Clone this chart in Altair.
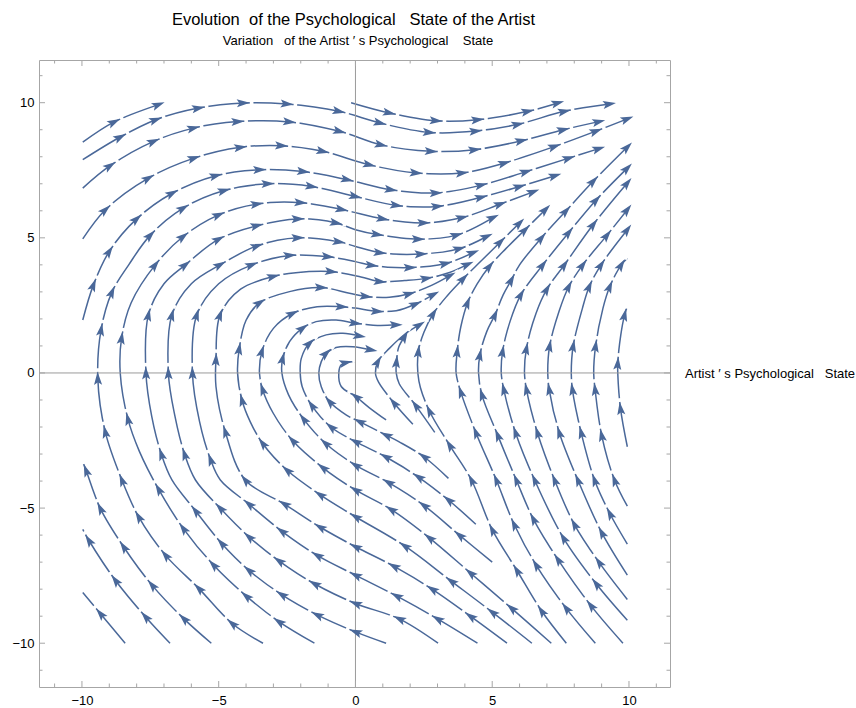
import math
import altair as alt
import pandas as pd

# ---------------- text ----------------
TITLE = "Evolution\u00a0 of the Psychological\u00a0\u00a0 State of the Artist"
Y_LABEL = "Variation\u00a0\u00a0 of the Artist \u2032 s Psychological\u00a0\u00a0\u00a0 State"
X_LABEL = "Artist \u2032 s Psychological\u00a0\u00a0 State"

# ---------------- axes ----------------
MAJOR_TICKS = [-10, -5, 0, 5, 10]
MINOR_TICKS = [-11, -9, -8, -7, -6, -4, -3, -2, -1, 1, 2, 3, 4, 6, 7, 8, 9, 11]
X_DOMAIN = [-11.57, 11.5]
Y_DOMAIN = [-11.62, 11.58]

# ---------------- streamlines (x, y, arrowhead here?) ----------------
S1 = [(-9.97, 8.54, 0), (-8.82, 9.29, 1), (-7.2, 9.93, 1)]
S2 = [(-9.97, 7.89, 0), (-8.6, 8.73, 1), (-7.3, 9.37, 1), (-5.74, 9.8, 1), (-4.1, 9.99, 1),
      (-2.5, 9.95, 1), (-0.6, 9.68, 1), (0.9, 9.25, 1), (2.7, 8.9, 1), (4.4, 8.95, 1),
      (5.94, 9.2, 1), (7.64, 9.68, 1), (9.29, 9.95, 1)]
T0 = [(-0.16, 10.0, 0), (1.24, 9.62, 1), (2.95, 9.33, 1), (4.47, 9.37, 1), (6.3, 9.68, 1), (7.4, 9.99, 1)]
S3 = [(-9.97, 6.84, 0), (-8.97, 7.67, 1), (-7.38, 8.57, 1), (-5.92, 9.06, 1), (-4.3, 9.3, 1),
      (-2.41, 9.29, 1), (-0.58, 8.94, 1), (0.94, 8.44, 1), (2.77, 8.2, 1), (4.36, 8.26, 1),
      (6.07, 8.59, 1), (7.6, 9.0, 1), (8.9, 9.3, 1)]
S4 = [(-9.97, 4.96, 0), (-9.14, 6.04, 1), (-7.57, 7.21, 1), (-5.9, 7.95, 1), (-4.2, 8.35, 1),
      (-2.7, 8.41, 1), (-1.19, 8.2, 1), (0.51, 7.7, 1), (2.22, 7.4, 1), (3.9, 7.4, 1),
      (5.45, 7.77, 1), (7.28, 8.38, 1), (8.8, 8.95, 1), (9.94, 9.4, 1)]
S5 = [(-9.97, 1.96, 0), (-9.58, 3.26, 1), (-9.0, 4.5, 1), (-8.0, 5.7, 1), (-6.7, 6.65, 1),
      (-5.1, 7.3, 1), (-3.5, 7.52, 1), (-1.9, 7.45, 1), (-0.3, 7.15, 1), (1.3, 6.78, 1),
      (2.95, 6.66, 1), (4.6, 6.95, 1), (6.24, 7.45, 1), (7.8, 7.95, 1), (8.9, 8.3, 1)]

L_A = [(-8.42, -10.0, 0), (-9.33, -8.9, 1), (-9.97, -8.12, 0)]
L_B = [(-6.78, -10.0, 0), (-7.68, -9.02, 1), (-8.78, -7.67, 1), (-9.75, -6.19, 1), (-9.97, -5.79, 0)]
L_C = [(-5.27, -10.0, 0), (-6.28, -9.09, 1), (-7.44, -7.85, 1), (-8.48, -6.43, 1), (-9.33, -5.01, 1),
       (-9.85, -3.6, 1), (-9.97, -3.29, 0)]

A1 = [(-3.38, -10.0, 0), (-4.51, -9.27, 1), (-5.73, -7.97, 1), (-6.95, -6.74, 1), (-7.93, -5.32, 1),
      (-8.54, -3.96, 1), (-9.15, -2.17, 1), (-9.42, -0.2, 1), (-9.3, 1.6, 1), (-8.9, 3.0, 1),
      (-8.29, 4.0, 0), (-7.5, 5.1, 1), (-6.3, 6.1, 1), (-4.8, 6.75, 1), (-3.2, 7.0, 1),
      (-1.6, 6.9, 1), (0.0, 6.53, 1), (1.5, 6.2, 1), (3.0, 6.16, 1), (4.6, 6.5, 1), (6.0, 6.9, 1),
      (7.3, 7.3, 1)]
A2 = [(-1.5, -10.0, 0), (-2.8, -9.2, 1), (-4.0, -8.25, 1), (-5.2, -7.1, 1), (-6.3, -5.75, 1),
      (-7.2, -4.3, 1), (-7.9, -2.9, 0), (-8.32, -1.7, 1), (-8.6, 0.0, 0), (-8.55, 1.3, 1),
      (-8.2, 2.6, 0), (-7.32, 4.0, 1), (-6.3, 5.05, 1), (-5.0, 5.85, 1), (-3.6, 6.25, 1),
      (-2.0, 6.3, 1), (-0.5, 6.05, 1), (1.0, 5.7, 1), (2.5, 5.55, 1), (3.9, 5.75, 1), (5.3, 6.25, 1),
      (6.5, 6.7, 1)]
A3 = [(1.12, -10.0, 0), (0.0, -9.58, 1), (-1.4, -8.95, 1), (-2.7, -8.2, 1), (-3.9, -7.3, 1),
      (-4.9, -6.3, 1), (-5.85, -5.1, 1), (-6.71, -3.96, 0), (-7.1, -3.0, 1), (-7.45, -1.6, 0),
      (-7.66, 0.0, 1), (-7.57, 2.15, 1), (-7.0, 3.3, 0), (-6.22, 4.0, 1), (-5.0, 4.95, 1),
      (-3.6, 5.45, 1), (-2.1, 5.7, 1), (-0.7, 5.55, 1), (0.0, 5.3, 0), (0.8, 5.12, 1),
      (2.3, 4.95, 1), (3.7, 5.1, 1), (5.03, 5.75, 1)]
A4 = [(3.02, -10.0, 0), (1.6, -9.1, 1), (0.0, -8.53, 1), (-1.5, -7.8, 1), (-2.8, -6.95, 1),
      (-3.9, -6.06, 1), (-4.95, -5.0, 1), (-5.85, -3.96, 0), (-6.25, -3.0, 1), (-6.6, -1.6, 0),
      (-6.84, 0.0, 1), (-6.71, 2.15, 1), (-6.0, 3.3, 0), (-4.95, 4.0, 1), (-3.6, 4.7, 1),
      (-2.1, 5.0, 1), (-0.6, 4.85, 1), (0.0, 4.68, 0), (0.9, 4.45, 1), (2.4, 4.4, 1),
      (3.8, 4.6, 1), (4.8, 5.05, 1)]
A5 = [(4.46, -10.0, 0), (3.0, -9.1, 1), (1.5, -8.25, 1), (0.0, -7.48, 1), (-1.4, -6.75, 1),
      (-2.7, -5.85, 1), (-3.9, -4.85, 1), (-4.94, -3.96, 0), (-5.3, -3.2, 1), (-5.7, -1.8, 0),
      (-5.96, 0.0, 1), (-5.8, 2.15, 1), (-5.0, 3.3, 0), (-3.79, 4.0, 1), (-2.4, 4.35, 1),
      (-1.0, 4.3, 1), (0.0, 4.12, 0), (0.6, 3.98, 1), (2.0, 3.9, 1), (3.3, 4.05, 1), (4.3, 4.45, 1)]
A6 = [(5.54, -10.0, 0), (4.2, -9.0, 1), (2.8, -8.0, 1), (1.4, -7.15, 1), (0.0, -6.43, 1),
      (-1.3, -5.7, 1), (-2.6, -4.85, 1), (-4.03, -3.96, 1), (-4.76, -2.17, 1), (-5.1, -0.5, 0),
      (-5.1, 0.5, 1), (-4.95, 2.15, 1), (-4.2, 3.1, 0), (-3.0, 3.57, 1), (-1.7, 3.75, 0),
      (-0.88, 3.75, 1), (0.2, 3.55, 0), (0.9, 3.38, 1), (1.8, 3.42, 0), (2.6, 3.5, 1),
      (3.44, 3.72, 0), (4.1, 4.02, 1)]
A7 = [(6.45, -10.0, 0), (5.0, -8.85, 1), (3.5, -7.7, 1), (1.8, -6.4, 1), (0.0, -5.32, 1),
      (-1.3, -4.5, 1), (-2.5, -3.6, 1), (-3.4, -2.6, 1), (-3.85, -1.8, 0), (-4.15, -1.0, 1),
      (-4.31, 0.0, 0), (-4.25, 0.9, 1), (-4.0, 1.95, 0), (-3.5, 2.6, 1), (-2.41, 3.01, 0),
      (-1.25, 3.16, 1), (-0.22, 2.95, 0), (0.39, 2.83, 1), (1.24, 2.8, 0), (1.97, 2.93, 1),
      (2.8, 3.25, 0), (3.45, 3.6, 1)]
A8 = [(7.16, -10.0, 0), (5.7, -8.7, 1), (4.2, -7.4, 1), (2.7, -6.1, 1), (1.3, -5.05, 1),
      (0.0, -4.33, 1), (-1.2, -3.5, 1), (-2.3, -2.5, 1), (-3.0, -1.5, 0), (-3.4, -0.6, 1),
      (-3.51, 0.0, 0), (-3.42, 0.8, 1), (-3.0, 1.65, 0), (-2.3, 2.2, 1), (-1.4, 2.45, 0),
      (-0.5, 2.45, 1), (0.0, 2.4, 0), (0.8, 2.28, 1), (1.49, 2.3, 0), (2.2, 2.55, 1),
      (2.85, 2.9, 1)]
A9 = [(5.0, -7.0, 0), (3.8, -6.0, 1), (2.5, -4.9, 1), (1.2, -4.05, 1), (0.0, -3.41, 1),
      (-1.1, -2.6, 1), (-1.9, -1.7, 1), (-2.45, -0.8, 0), (-2.69, 0.0, 0), (-2.66, 0.54, 1),
      (-2.41, 1.16, 0), (-1.93, 1.66, 1), (-1.44, 1.9, 0), (-0.71, 1.96, 0), (0.0, 1.84, 1),
      (0.8, 1.76, 0), (1.49, 1.78, 1)]
A10 = [(4.4, -5.6, 0), (3.4, -4.7, 1), (2.3, -3.85, 1), (1.1, -3.1, 1), (0.0, -2.54, 1),
       (-0.9, -2.0, 1), (-1.6, -1.2, 1), (-1.95, -0.5, 0), (-2.02, 0.0, 0), (-1.98, 0.54, 0),
       (-1.68, 1.1, 1), (-1.07, 1.41, 0), (-0.46, 1.47, 0), (0.15, 1.37, 1)]
A11 = [(3.4, -3.9, 0), (2.5, -3.1, 1), (1.6, -2.55, 0), (1.12, -2.3, 1), (0.15, -1.8, 1),
       (-0.33, -1.56, 0), (-0.95, -1.06, 1), (-1.25, -0.51, 0), (-1.34, 0.0, 0), (-1.25, 0.42, 0),
       (-1.07, 0.73, 1), (-0.71, 0.94, 0), (-0.1, 0.97, 0), (0.57, 0.85, 1)]
A12 = [(1.12, -1.74, 0), (0.5, -1.28, 0), (0.02, -0.88, 1), (-0.52, -0.5, 0), (-0.61, 0.0, 0),
       (-0.52, 0.3, 0), (-0.35, 0.38, 1), (0.0, 0.42, 0)]

R1 = [(2.1, -1.9, 0), (1.4, -1.1, 1), (0.85, -0.35, 0), (0.73, 0.0, 0), (0.82, 0.42, 1),
      (1.24, 0.91, 0), (1.85, 1.47, 0), (2.34, 1.78, 1)]
R2 = [(2.9, -2.2, 0), (2.2, -1.2, 1), (1.6, -0.4, 0), (1.49, 0.0, 0), (1.5, 0.42, 1),
      (1.58, 0.95, 0), (1.8, 1.35, 1)]
R3 = [(7.71, -10.0, 0), (6.8, -8.8, 1), (5.9, -7.3, 1), (5.0, -5.8, 1), (4.24, -3.96, 1),
      (3.44, -2.67, 1), (2.7, -1.4, 1), (2.32, -0.3, 0), (2.3, 0.8, 1), (2.5, 1.5, 0),
      (2.85, 2.2, 1), (3.35, 2.85, 0), (3.95, 3.5, 1), (4.6, 4.15, 0), (5.3, 4.85, 1), (6.0, 5.55, 1)]
R4 = [(8.77, -10.0, 0), (7.7, -8.7, 1), (6.6, -7.1, 1), (5.8, -5.6, 1), (5.15, -3.96, 1),
      (4.4, -2.2, 1), (3.85, -0.7, 1), (3.68, 0.0, 0), (3.72, 0.8, 1), (3.85, 1.7, 0),
      (4.1, 2.6, 1), (4.45, 3.3, 0), (4.9, 3.95, 1), (5.5, 4.6, 0), (6.2, 5.3, 1), (6.95, 6.05, 1)]
R5 = [(9.78, -10.0, 0), (8.6, -8.6, 1), (7.4, -6.9, 1), (6.5, -5.4, 1), (5.88, -3.96, 1),
      (5.2, -2.3, 1), (4.62, -0.8, 1), (4.5, 0.0, 0), (4.55, 0.67, 1), (4.8, 1.53, 0),
      (5.1, 2.15, 1), (5.4, 2.89, 0), (5.7, 3.44, 1), (6.0, 4.0, 0), (6.8, 5.0, 1),
      (7.7, 6.0, 1), (8.7, 7.1, 1), (9.94, 8.36, 1)]
R6 = [(9.94, -9.15, 0), (8.8, -7.8, 1), (7.6, -6.1, 1), (6.55, -3.96, 1), (5.85, -2.2, 1),
      (5.42, -0.6, 1), (5.33, 0.0, 0), (5.38, 0.8, 1), (5.65, 1.9, 0), (6.05, 2.9, 1),
      (6.85, 4.0, 1), (7.8, 5.2, 1), (8.8, 6.4, 1), (9.94, 7.58, 1)]
R7 = [(9.94, -8.38, 0), (8.9, -7.0, 1), (8.0, -5.6, 1), (7.28, -3.96, 1), (6.65, -2.2, 1),
      (6.25, -0.6, 1), (6.18, 0.0, 0), (6.25, 0.9, 1), (6.6, 2.2, 0), (7.0, 3.1, 1),
      (7.64, 4.0, 1), (8.7, 5.5, 1), (9.94, 7.03, 1)]
R8 = [(9.94, -7.48, 0), (9.0, -5.9, 1), (8.13, -3.96, 1), (7.45, -2.2, 1), (7.08, -0.6, 1),
      (7.03, 0.0, 0), (7.1, 1.0, 1), (7.45, 2.3, 0), (7.8, 3.2, 1), (8.31, 4.0, 1),
      (9.2, 5.1, 1), (9.94, 6.04, 1)]
R9 = [(9.94, -6.33, 0), (9.3, -5.2, 1), (8.74, -3.96, 1), (8.25, -2.2, 1), (7.93, -0.6, 1),
      (7.89, 0.0, 0), (7.96, 1.0, 1), (8.3, 2.4, 0), (8.55, 3.2, 1), (8.98, 4.0, 1), (9.94, 5.3, 1)]
R10 = [(9.94, -4.93, 0), (9.47, -3.96, 1), (9.0, -2.3, 1), (8.76, -0.6, 1), (8.71, 0.0, 0),
       (8.78, 1.0, 1), (9.05, 2.4, 0), (9.3, 3.2, 1), (9.72, 4.0, 1), (9.94, 4.25, 0)]
R11 = [(9.94, -2.73, 0), (9.69, -1.31, 1), (9.59, 0.0, 0), (9.59, 0.36, 1), (9.7, 1.4, 0),
       (9.84, 2.15, 1), (9.94, 2.46, 0)]

STREAMLINES = {
    "S1": S1, "S2": S2, "T0": T0, "S3": S3, "S4": S4, "S5": S5,
    "LA": L_A, "LB": L_B, "LC": L_C,
    "A1": A1, "A2": A2, "A3": A3, "A4": A4, "A5": A5, "A6": A6, "A7": A7, "A8": A8,
    "A9": A9, "A10": A10, "A11": A11, "A12": A12,
    "R1": R1, "R2": R2, "R3": R3, "R4": R4, "R5": R5, "R6": R6, "R7": R7, "R8": R8,
    "R9": R9, "R10": R10, "R11": R11,
}

# ---------------- build tables ----------------
W, H = 631, 627
SX = W / (X_DOMAIN[1] - X_DOMAIN[0])
SY = H / (Y_DOMAIN[1] - Y_DOMAIN[0])

line_rows, arrow_rows = [], []
for name, pts in STREAMLINES.items():
    n = len(pts)
    for i, (x, y, a) in enumerate(pts):
        line_rows.append({"line": name, "order": i, "x": x, "y": y})
        if a:
            p0 = pts[i - 1] if i > 0 else pts[i]
            p1 = pts[i + 1] if i < n - 1 else pts[i]
            dx = (p1[0] - p0[0]) * SX
            dy = (p1[1] - p0[1]) * SY
            ang = math.degrees(math.atan2(dx, dy)) % 360
            arrow_rows.append({"x": x, "y": y, "angle": ang})

lines_df = pd.DataFrame(line_rows)
arrows_df = pd.DataFrame(arrow_rows)

# ---------------- styles ----------------
COLOR = "#4a6899"
FRAME = "#a6a6a6"
FONT = "Liberation Sans"
ARROW = "M0,-1L0.62,1L0,0.6L-0.62,1Z"
GAP = "M-0.3,-1.0L0.3,-1.0L0.3,-1.55L-0.3,-1.55Z"
HEAD_SIZE = 170

xs = alt.Scale(domain=X_DOMAIN, nice=False, zero=False)
ys = alt.Scale(domain=Y_DOMAIN, nice=False, zero=False)
xaxis = alt.Axis(values=MAJOR_TICKS, ticks=False, domain=False, grid=False, title=None,
                 labelFont=FONT, labelFontSize=13, labelColor="#000000", labelPadding=7,
                 labelFlush=False)
yaxis = alt.Axis(values=MAJOR_TICKS, ticks=False, domain=False, grid=False, title=None,
                 labelFont=FONT, labelFontSize=13, labelColor="#000000", labelPadding=5,
                 labelFlush=False)

def X(field):
    return alt.X(field, scale=xs, axis=xaxis)

def Y(field):
    return alt.Y(field, scale=ys, axis=yaxis)

zero_df = pd.DataFrame({"v": [0]})
major_df = pd.DataFrame({"v": MAJOR_TICKS})
minor_df = pd.DataFrame({"v": MINOR_TICKS})

vzero = alt.Chart(zero_df).mark_rule(color="#9a9a9a", strokeWidth=1).encode(x=X("v:Q"))
hzero = alt.Chart(zero_df).mark_rule(color="#9a9a9a", strokeWidth=1).encode(y=Y("v:Q"))

tick_layers = []
for df, L in ((major_df, 6), (minor_df, 3.5)):
    tick_layers.append(alt.Chart(df).mark_rule(color=FRAME, strokeWidth=1).encode(
        x=X("v:Q"), y=alt.value(H), y2=alt.value(H - L)))
    tick_layers.append(alt.Chart(df).mark_rule(color=FRAME, strokeWidth=1).encode(
        x=X("v:Q"), y=alt.value(0), y2=alt.value(L)))
    tick_layers.append(alt.Chart(df).mark_rule(color=FRAME, strokeWidth=1).encode(
        y=Y("v:Q"), x=alt.value(0), x2=alt.value(L)))
    tick_layers.append(alt.Chart(df).mark_rule(color=FRAME, strokeWidth=1).encode(
        y=Y("v:Q"), x=alt.value(W), x2=alt.value(W - L)))

stream = alt.Chart(lines_df).mark_line(
    interpolate="catmull-rom", color=COLOR, strokeWidth=1.5
).encode(x=X("x:Q"), y=Y("y:Q"), detail="line:N", order="order:Q")

gaps = alt.Chart(arrows_df).mark_point(
    shape=GAP, filled=True, size=HEAD_SIZE, color="#ffffff", opacity=1, strokeWidth=0
).encode(x=X("x:Q"), y=Y("y:Q"), angle=alt.Angle("angle:Q", scale=None))

heads = alt.Chart(arrows_df).mark_point(
    shape=ARROW, filled=True, size=HEAD_SIZE, color=COLOR, opacity=1, strokeWidth=0
).encode(x=X("x:Q"), y=Y("y:Q"), angle=alt.Angle("angle:Q", scale=None))

def label(txt, px, py, size, align):
    return alt.Chart(pd.DataFrame({"t": [txt]})).mark_text(
        font=FONT, fontSize=size, color="#000000", align=align, baseline="middle"
    ).encode(text="t:N", x=alt.value(px), y=alt.value(py))

title = label(TITLE, 314.5, -40, 16.5, "center")
ylab = label(Y_LABEL, 319, -19, 13, "center")
xlab = label(X_LABEL, 646, 314, 13, "left")

chart = alt.layer(
    stream, gaps, vzero, hzero, *tick_layers, heads, title, ylab, xlab
).properties(
    width=W, height=H,
    padding={"left": 39, "top": 60, "right": 186, "bottom": 21},
    autosize="none",
).configure_view(stroke=FRAME, strokeWidth=1)

chart.save("out.html", embed_options={"renderer": "svg", "actions": False})
